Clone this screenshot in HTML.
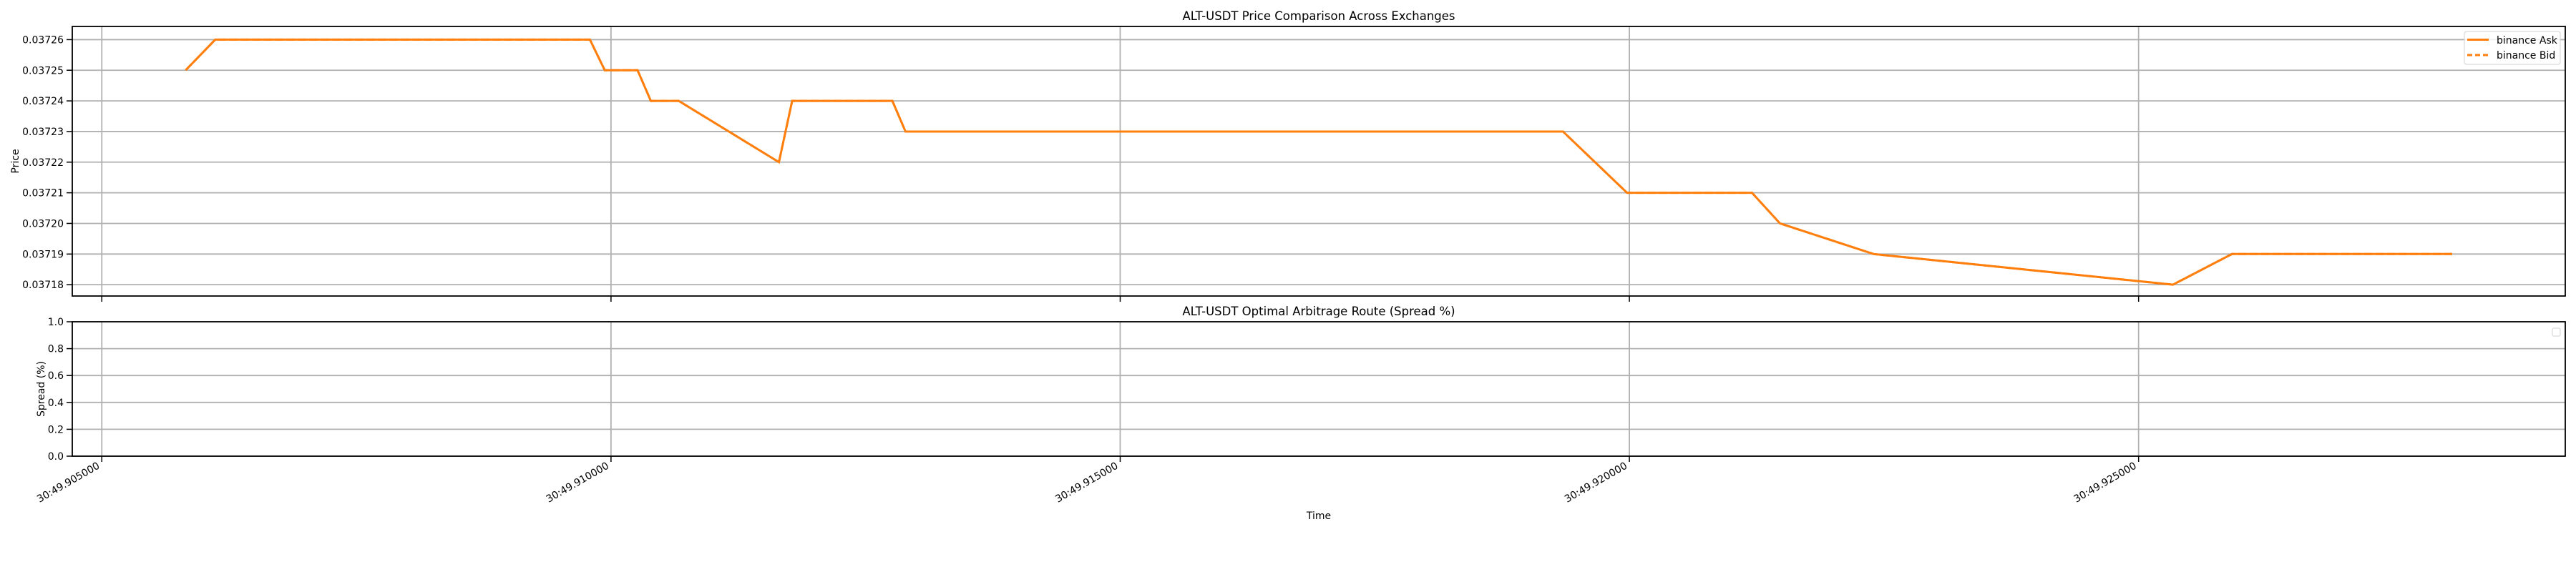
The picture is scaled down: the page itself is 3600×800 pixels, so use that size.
<!DOCTYPE html>
<html><head><meta charset="utf-8"><style>
html,body{margin:0;padding:0;background:#fff;}
svg{display:block;font-family:"DejaVu Sans","Liberation Sans",sans-serif;}
</style></head><body>
<svg id="chart" width="3600" height="800" viewBox="0 0 3600 800" xmlns="http://www.w3.org/2000/svg">
<g id="gtop"></g>
<g id="gbot"></g>
</svg>
<script>
// time in ms after 30:49.905000
const times = [0.823,1.114,4.793,4.939,5.261,5.391,5.665,6.649,6.779,7.763,7.892,14.348,14.977,16.204,16.479,17.399,20.337,20.917,23.079];
const askPrices = [0.03725,0.03726,0.03726,0.03725,0.03725,0.03724,0.03724,0.03722,0.03724,0.03724,0.03723,0.03723,0.03721,0.03721,0.03720,0.03719,0.03718,0.03719,0.03719];
const bidPrices = [0.03725,0.03726,0.03726,0.03725,0.03725,0.03724,0.03724,0.03722,0.03724,0.03724,0.03723,0.03723,0.03721,0.03721,0.03720,0.03719,0.03718,0.03719,0.03719];
const xTicks = [0,5,10,15,20];
const xTickLabels = ["30:49.905000","30:49.910000","30:49.915000","30:49.920000","30:49.925000"];
const priceTicks = [0.03718,0.03719,0.03720,0.03721,0.03722,0.03723,0.03724,0.03725,0.03726];
const spreadTicks = [0,0.2,0.4,0.6,0.8,1.0];

const NS="http://www.w3.org/2000/svg";
const L=101,R=3585;
const xMin=-0.29,xMax=24.19;
const pTop={t:37,b:414,min:0.0371763,max:0.0372643};
const pBot={t:450,b:638,min:0,max:1};
const X=v=>L+(v-xMin)/(xMax-xMin)*(R-L);
const Yp=v=>pTop.b-(v-pTop.min)/(pTop.max-pTop.min)*(pTop.b-pTop.t);
const Ys=v=>pBot.b-(v-pBot.min)/(pBot.max-pBot.min)*(pBot.b-pBot.t);
function mk(tag,attrs,parent,text){const e=document.createElementNS(NS,tag);for(const k in attrs)e.setAttribute(k,attrs[k]);if(text!==undefined)e.textContent=text;parent.appendChild(e);return e;}
const gT=document.getElementById('gtop'),gB=document.getElementById('gbot');

function panel(g,p,ticks,Y,fmt,ytitle,title){
  ticks.forEach(v=>{
    const ln=mk('line',{x1:L,x2:R,y1:Y(v),y2:Y(v),stroke:'#b0b0b0','stroke-width':1.8},g);
    
    
    const tk=mk('line',{x1:L-8,x2:L,y1:Y(v),y2:Y(v),stroke:'#000','stroke-width':1.5},g);
    
    
    const t=mk('text',{x:L-12,y:Y(v)+5,'text-anchor':'end','font-size':14,fill:'#000'},g,fmt(v));
    
    
  });
  xTicks.forEach(v=>{
    const ln=mk('line',{x1:X(v),x2:X(v),y1:p.t,y2:p.b,stroke:'#b0b0b0','stroke-width':1.8},g);
    
    
    const tk=mk('line',{x1:X(v),x2:X(v),y1:p.b,y2:p.b+8,stroke:'#000','stroke-width':1.5},g);
    
    
  });
  const fr=mk('rect',{x:L,y:p.t,width:R-L,height:p.b-p.t,fill:'none',stroke:'#000','stroke-width':1.8},g);
  
  
  const yt=mk('text',{x:0,y:0,transform:`translate(${ytitle.x},${(p.t+p.b)/2}) rotate(-90)`,'text-anchor':'middle','font-size':14},g,ytitle.text);
  
  
  const tt=mk('text',{x:(L+R)/2,y:p.t-9,'text-anchor':'middle','font-size':16.5},g,title);
  
  
}
panel(gT,pTop,priceTicks,Yp,v=>v.toFixed(5),{x:26,text:'Price'},'ALT-USDT Price Comparison Across Exchanges');
panel(gB,pBot,spreadTicks,Ys,v=>v.toFixed(1),{x:62,text:'Spread (%)'},'ALT-USDT Optimal Arbitrage Route (Spread %)');

const askPts=times.map((t,i)=>X(t)+','+Yp(askPrices[i])).join(' ');
const bidPts=times.map((t,i)=>X(t)+','+Yp(bidPrices[i])).join(' ');
const bl=mk('polyline',{points:bidPts,fill:'none',stroke:'#ff7f0e','stroke-width':3,'stroke-dasharray':'11,5'},gT);


const al=mk('polyline',{points:askPts,fill:'none',stroke:'#ff7f0e','stroke-width':3},gT);



// legend
const lg=mk('g',{},gT);


mk('rect',{x:3444,y:44,width:134,height:46,rx:3,fill:'#fff','fill-opacity':0.8,stroke:'#d0d0d0','stroke-width':1},lg);
mk('line',{x1:3448,x2:3478,y1:55.5,y2:55.5,stroke:'#ff7f0e','stroke-width':3},lg);
mk('line',{x1:3448,x2:3478,y1:77,y2:77,stroke:'#ff7f0e','stroke-width':3,'stroke-dasharray':'7,4'},lg);
const e1=mk('text',{x:3489,y:61,'font-size':14},lg,'binance Ask');


const e2=mk('text',{x:3489,y:82,'font-size':14},lg,'binance Bid');


const el2=mk('rect',{x:3567,y:459,width:11,height:11,rx:2,fill:'#fff',stroke:'#d0d0d0','stroke-width':1},gB);



// x tick labels
xTicks.forEach((v,i)=>{
  const t=mk('text',{x:0,y:0,transform:`translate(${X(v)-2},${pBot.b+16}) rotate(-30)`,'text-anchor':'end','font-size':14},gB,xTickLabels[i]);
  
  
});
const xt=mk('text',{x:(L+R)/2,y:726,'text-anchor':'middle','font-size':14},gB,'Time');


</script>
</body></html>
